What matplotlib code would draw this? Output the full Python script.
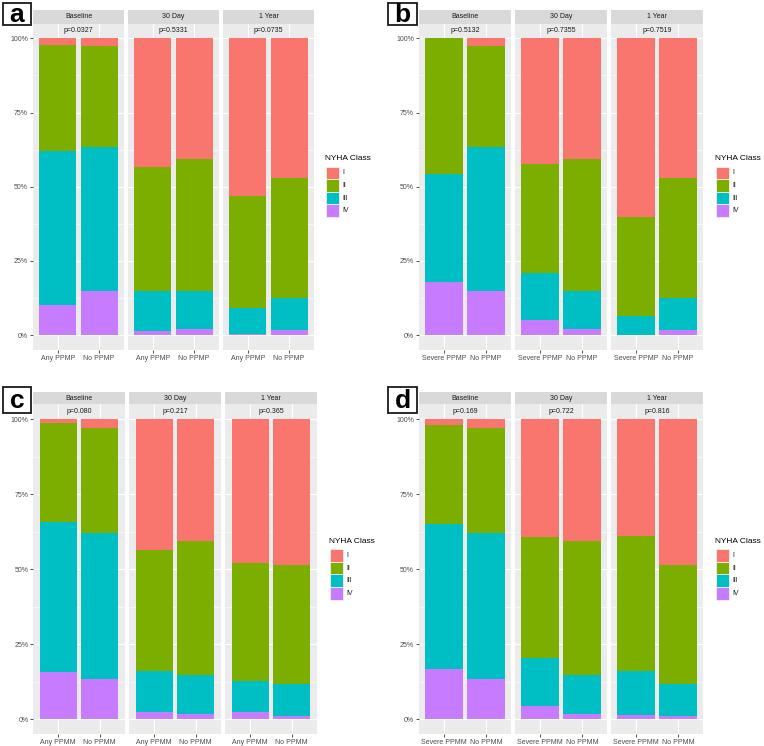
import numpy as np
import matplotlib
matplotlib.use("Agg")
import matplotlib.pyplot as plt
from matplotlib.patches import Rectangle

plt.rcParams['font.family'] = ['Liberation Sans', 'DejaVu Sans']

W, H = 764, 746

# NYHA classes and ggplot default hue colours
classes = ['I', 'II', 'III', 'IV']
class_colors = ['#F8766D', '#7CAE00', '#00BFC4', '#C77CFF']
timepoints = ['Baseline', '30 Day', '1 Year']

# percentages per bar, order: Baseline(g1, g2), 30 Day(g1, g2), 1 Year(g1, g2)
a_groups = ['Any PPMP', 'No PPMP']
a_pvals = ['p=0.0327', 'p=0.5331', 'p=0.0735']
a_I = [2.4, 2.7, 43.3, 40.7, 53.1, 47.1]
a_II = [35.6, 34.0, 41.8, 44.5, 37.6, 40.3]
a_III = [51.9, 48.5, 13.55, 12.8, 9.0, 11.0]
a_IV = [10.1, 14.8, 1.35, 2.0, 0.3, 1.6]

b_groups = ['Severe PPMP', 'No PPMP']
b_pvals = ['p=0.5132', 'p=0.7355', 'p=0.7519']
b_I = [0.0, 2.7, 42.3, 40.7, 60.2, 47.1]
b_II = [45.6, 34.0, 36.9, 44.5, 33.3, 40.3]
b_III = [36.4, 48.5, 15.7, 12.8, 6.5, 11.0]
b_IV = [18.0, 14.8, 5.1, 2.0, 0.0, 1.6]

c_groups = ['Any PPMM', 'No PPMM']
c_pvals = ['p=0.080', 'p=0.217', 'p=0.365']
c_I = [1.3, 3.0, 43.6, 40.6, 47.8, 48.5]
c_II = [32.8, 34.8, 40.3, 44.7, 39.5, 39.7]
c_III = [50.0, 48.9, 13.6, 12.8, 10.4, 10.6]
c_IV = [15.9, 13.3, 2.5, 1.9, 2.3, 1.2]

d_groups = ['Severe PPMM', 'No PPMM']
d_pvals = ['p=0.169', 'p=0.722', 'p=0.816']
d_I = [1.9, 3.0, 39.3, 40.6, 39.0, 48.5]
d_II = [33.1, 34.8, 40.2, 44.7, 44.9, 39.7]
d_III = [48.1, 48.9, 16.0, 12.8, 14.8, 10.6]
d_IV = [16.9, 13.3, 4.5, 1.9, 1.3, 1.2]


def px_rect(x0, y0, x1, y1):
    # pixel box (top-left origin) -> figure fraction rect
    return [x0 / W, 1 - y1 / H, (x1 - x0) / W, (y1 - y0) / H]


fig = plt.figure(figsize=(W / 100, H / 100), dpi=100)


def draw_panel(letter, groups, pvals, vals, lefts, fw, strip_top, ptop, pbot, leg_x, leg_y, box):
    vals = np.array(vals, dtype=float)  # 4 x 6
    vals = vals / vals.sum(axis=0)
    for k, tp in enumerate(timepoints):
        x0 = lefts[k]
        ax = fig.add_axes(px_rect(x0, ptop, x0 + fw, pbot))
        ax.set_facecolor('#EBEBEB')
        for s in ax.spines.values():
            s.set_visible(False)
        ax.set_xlim(0.4, 2.6)
        ax.set_ylim(-0.05, 1.05)
        ax.set_yticks([0, 0.25, 0.5, 0.75, 1.0])
        ax.set_yticks([0.125, 0.375, 0.625, 0.875], minor=True)
        ax.set_xticks([1, 2])
        ax.set_xticklabels(groups, fontsize=5, color='#4D4D4D')
        ax.grid(True, which='major', color='white', lw=0.8)
        ax.grid(True, which='minor', axis='y', color='white', lw=0.4)
        ax.set_axisbelow(True)
        ax.tick_params(which='major', length=2.5, width=0.6, color='#333333', pad=1)
        ax.tick_params(which='minor', length=0)
        if k == 0:
            ax.set_yticklabels(['0%', '25%', '50%', '75%', '100%'], fontsize=5, color='#4D4D4D')
        else:
            ax.tick_params(axis='y', which='major', length=0, labelleft=False)
        xs = np.array([1, 2])
        bottom = np.zeros(2)
        for ci in [3, 2, 1, 0]:
            h = vals[ci, 2 * k:2 * k + 2]
            ax.bar(xs, h, width=0.9, bottom=bottom, color=class_colors[ci], edgecolor='none')
            bottom = bottom + h
        ax.text(1.5, 1.025, pvals[k], ha='center', va='center', fontsize=5, color='#1A1A1A')
        # facet strip
        sx = fig.add_axes(px_rect(x0, strip_top, x0 + fw, ptop))
        sx.set_facecolor('#D9D9D9')
        sx.set_xticks([])
        sx.set_yticks([])
        for s in sx.spines.values():
            s.set_visible(False)
        sx.text(0.5, 0.5, tp, ha='center', va='center', fontsize=5, color='#1A1A1A',
                transform=sx.transAxes)

    # legend
    fig.text(leg_x / W, 1 - leg_y / H, 'NYHA Class', fontsize=6, color='black',
             ha='left', va='center')
    ky = leg_y + 7.5
    for ci, cl in enumerate(classes):
        r = px_rect(leg_x + 1, ky + ci * 12.6, leg_x + 13.5, ky + (ci + 1) * 12.6)
        fig.add_artist(Rectangle((r[0], r[1]), r[2], r[3], transform=fig.transFigure,
                                 facecolor=class_colors[ci], edgecolor='#F2F2F2', lw=0.6))
        fig.text((leg_x + 17.5) / W, 1 - (ky + (ci + 0.5) * 12.6) / H, cl, fontsize=5,
                 color='#1A1A1A', ha='left', va='center')

    # panel letter
    bx0, by0, bx1, by1 = box
    r = px_rect(bx0, by0, bx1, by1)
    fig.add_artist(Rectangle((r[0], r[1]), r[2], r[3], transform=fig.transFigure,
                             facecolor='white', edgecolor='#1A1A1A', lw=1.3))
    fig.text((bx0 + bx1) / 2 / W, 1 - ((by0 + by1) / 2 + 1) / H, letter, fontsize=19,
             fontweight='bold', ha='center', va='center')


draw_panel('a', a_groups, a_pvals, [a_I, a_II, a_III, a_IV], [33, 128, 223], 91,
           10, 23.5, 350, 325, 159, (3, 3, 31, 25))
draw_panel('b', b_groups, b_pvals, [b_I, b_II, b_III, b_IV], [419, 515, 611], 92,
           10, 23.5, 350, 715, 159, (388, 3, 417, 25))
draw_panel('c', c_groups, c_pvals, [c_I, c_II, c_III, c_IV], [33.3, 129.3, 225.3], 91.4,
           391.7, 404.3, 734.3, 329, 541.7, (3, 387, 31, 413))
draw_panel('d', d_groups, d_pvals, [d_I, d_II, d_III, d_IV], [419, 515, 611], 92,
           391.7, 404.3, 734.3, 715, 541.7, (388, 387, 417, 413))

fig.savefig('out.png', dpi=100, facecolor='white')
